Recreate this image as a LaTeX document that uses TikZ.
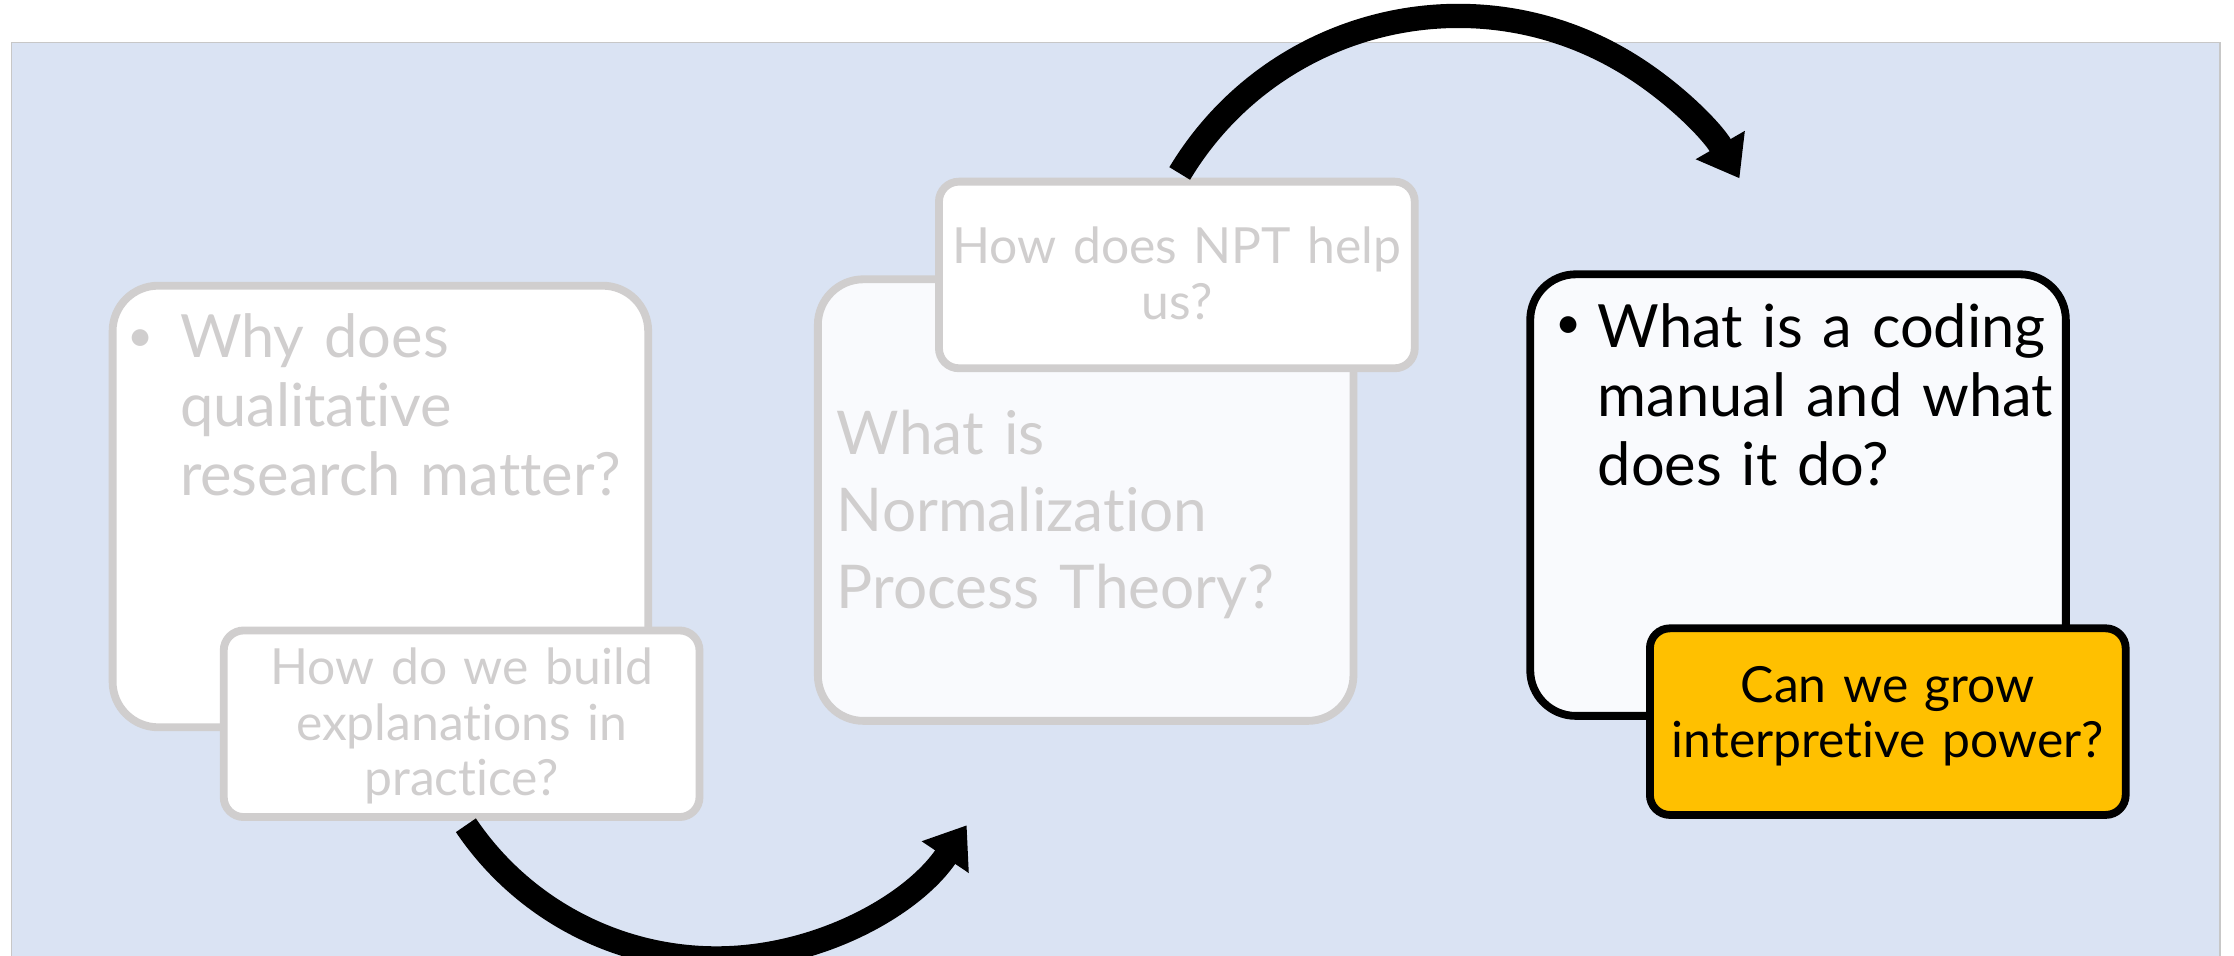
\documentclass[tikz,border=0pt]{standalone}
\usepackage{fontspec}
\setmainfont{Lato}[Ligatures={NoCommon}]
\usetikzlibrary{arrows.meta}
\definecolor{slidebg}{HTML}{DAE3F3}
\definecolor{faded}{HTML}{D0CECE}
\definecolor{paleblue}{HTML}{F9FAFD}
\definecolor{amber}{HTML}{FFC000}
\begin{document}
\begin{tikzpicture}[x=0.02cm, y=-0.02cm,
    bigbox/.style={rectangle, rounded corners=0.64cm, line width=0.11cm, minimum width=7.52cm, minimum height=6.2cm, inner sep=0pt},
    smallbox/.style={rectangle, rounded corners=0.28cm, line width=0.11cm, minimum width=6.68cm, minimum height=2.62cm, inner sep=0pt},
    past/.style={draw=faded, text=faded},
    now/.style={draw=black, text=black},
    bigtxt/.style={inner sep=0pt, text width=8cm, align=left, anchor=base west, font=\fontsize{23.8}{27.6}\selectfont},
    bulletmark/.style={inner sep=0pt, anchor=base, font=\fontsize{18}{18}\selectfont},
    smalltxt/.style={inner sep=0pt, text width=6.4cm, align=center, anchor=base, font=\fontsize{19.9}{22.2}\selectfont},
    bigarrow/.style={line width=0.34cm, -{Triangle[length=0.54cm, width=0.76cm]}}]
    \useasboundingbox (0,0) rectangle (1568,670.4);
    \draw[fill=slidebg, draw=black!22, line width=0.6pt] (8,30) rectangle (1558,700);

    % first topic
    \node[bigbox, past, fill=white] (Q1) at (267,355.5) {};
    \node[bulletmark, text=faded] (Q1b) at (99,246.5) {\textbullet};
    \node[bigtxt, text=faded] (Q1t) at (126,251) {Why does\\qualitative\\research matter?};
    \node[smallbox, past, fill=white] (S1) at (324,508) {};
    \node[smalltxt, text=faded] (S1t) at (324,480.5) {How do we build\\explanations in\\practice?};

    % second topic
    \node[bigbox, past, fill=paleblue] (Q2) at (762,351) {};
    \node[bigtxt, text=faded, font=\fontsize{24.1}{30.7}\selectfont] (Q2t) at (587,319) {What is\\Normalization\\Process Theory?};
    \node[smallbox, past, fill=white] (S2) at (826,193) {};
    \node[smalltxt, text=faded] (S2t) at (826,185) {How does NPT help\\us?};

    % third topic
    \node[bigbox, now, fill=paleblue] (Q3) at (1262,347.5) {};
    \node[bulletmark] (Q3b) at (1101,237.5) {\textbullet};
    \node[bigtxt] (Q3t) at (1121,244) {What is a coding\\manual and what\\does it do?};
    \node[smallbox, now, fill=amber] (S3) at (1325,506.5) {};
    \node[smalltxt] (S3t) at (1325,493) {Can we grow\\interpretive power?};

    \draw[bigarrow] (S1.south) ++(3,3) arc[start angle=146, end angle=34, radius=212];
    \draw[bigarrow] (S2.north) ++(2,-3) arc[start angle=211, end angle=330, radius=228];
\end{tikzpicture}
\end{document}
